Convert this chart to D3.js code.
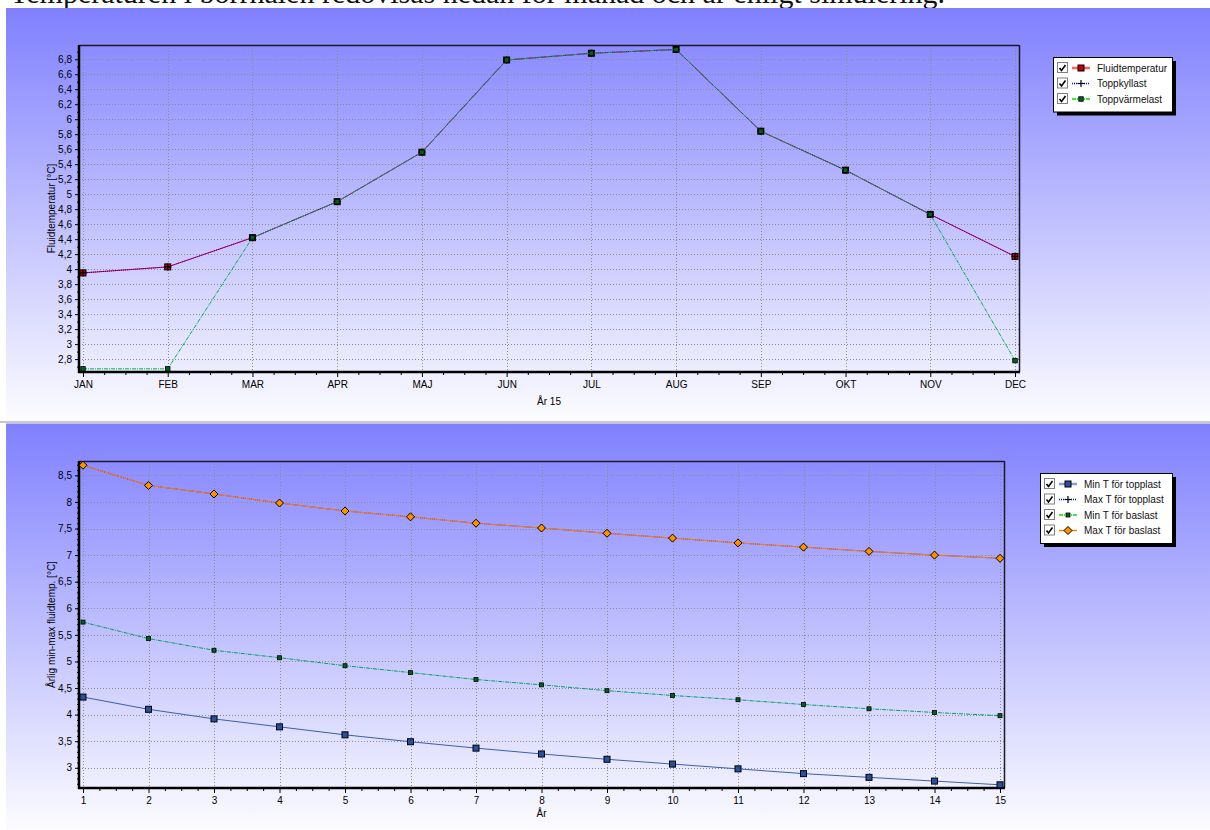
<!DOCTYPE html>
<html><head><meta charset="utf-8">
<script src="https://cdn.jsdelivr.net/npm/d3@7"></script>
<style>
body{margin:0;background:#fff}
svg{display:block}
text{font-family:"Liberation Sans",Arial,sans-serif;}
text.hdr{font-family:"Liberation Serif","DejaVu Serif",serif;}
</style>
</head><body><svg id="c" width="1210" height="830"></svg>
<script>
// ---------- data ----------
const months = ["JAN","FEB","MAR","APR","MAJ","JUN","JUL","AUG","SEP","OKT","NOV","DEC"];
const fluidTemp     = [3.95,4.03,4.42,4.90,5.56,6.79,6.88,6.93,5.84,5.32,4.73,4.17];
const toppKyllast   = [3.95,4.03,4.42,4.90,5.56,6.79,6.88,6.93,5.84,5.32,4.73,4.17];
const toppVarmelast = [2.67,2.67,4.42,4.90,5.56,6.79,6.88,6.93,5.84,5.32,4.73,2.78];
const topYTicks = [2.8,3,3.2,3.4,3.6,3.8,4,4.2,4.4,4.6,4.8,5,5.2,5.4,5.6,5.8,6,6.2,6.4,6.6,6.8];

const years = [1,2,3,4,5,6,7,8,9,10,11,12,13,14,15];
const minTopplast = [4.33,4.10,3.92,3.77,3.62,3.49,3.37,3.26,3.16,3.07,2.98,2.89,2.82,2.75,2.68];
const maxTopplast = [8.69,8.31,8.15,7.98,7.83,7.72,7.60,7.51,7.41,7.32,7.23,7.15,7.07,7.00,6.94];
const minBaslast  = [5.74,5.43,5.21,5.07,4.92,4.79,4.66,4.56,4.45,4.36,4.28,4.19,4.11,4.04,3.98];
const maxBaslast  = [8.69,8.31,8.15,7.98,7.83,7.72,7.60,7.51,7.41,7.32,7.23,7.15,7.07,7.00,6.94];
const bottomYTicks = [3,3.5,4,4.5,5,5.5,6,6.5,7,7.5,8,8.5];

const headerText = "Temperaturen i borrhålen redovisas nedan för månad och år enligt simulering.";

// ---------- helpers ----------
const svg = d3.select("#c");
const fmt = v => String(v).replace(".", ",");
const defs = svg.append("defs");
const grad = defs.append("linearGradient").attr("id","bg").attr("x1",0).attr("y1",0).attr("x2",0).attr("y2",1);
grad.append("stop").attr("offset","0%").attr("stop-color","#8080ff");
grad.append("stop").attr("offset","100%").attr("stop-color","#fcfcff");

// header (partly cut off at the top edge, as in the reference)
svg.append("text").attr("class","hdr").attr("x", 10).attr("y", 3)
  .attr("font-size", 30).attr("fill","#111").text(headerText);

function marker(g, type, x, y, style) {
  if (type === "square") {
    g.append("rect").attr("x", x - style.s/2).attr("y", y - style.s/2).attr("width", style.s).attr("height", style.s)
      .attr("fill", style.fill).attr("stroke", "#000").attr("stroke-width", 1);
  } else if (type === "diamond") {
    const r = style.s/2;
    g.append("path").attr("d", `M${x},${y-r}L${x+r},${y}L${x},${y+r}L${x-r},${y}Z`)
      .attr("fill", style.fill).attr("stroke", "#000").attr("stroke-width", 1);
  } else if (type === "plus") {
    g.append("path").attr("d", `M${x-3.5},${y}H${x+3.5}M${x},${y-3.5}V${y+3.5}`)
      .attr("stroke", "#000").attr("stroke-width", 1.2);
  } else if (type === "dot") {
    g.append("rect").attr("x", x - style.s/2).attr("y", y - style.s/2).attr("width", style.s).attr("height", style.s)
      .attr("fill", style.fill).attr("stroke", "#000").attr("stroke-width", 0.8);
  }
}

function chart(cfg) {
  const g = svg.append("g");
  g.append("rect").attr("x", cfg.panel[0]).attr("y", cfg.panel[1]).attr("width", cfg.panel[2]).attr("height", cfg.panel[3])
    .attr("fill", "url(#bg)");
  const {left, right, top, bottom} = cfg.plot;
  const x = d3.scaleLinear().domain(cfg.xDomain).range(cfg.xRange);
  const y = d3.scaleLinear().domain(cfg.yDomain).range([bottom, top]);

  // grid
  const grid = g.append("g").attr("stroke", "#8c8c8c").attr("stroke-width", 1).attr("stroke-dasharray", "1,2");
  cfg.yTicks.forEach(v => grid.append("line").attr("x1", left).attr("x2", right)
    .attr("y1", Math.round(y(v)) + 0.5).attr("y2", Math.round(y(v)) + 0.5));
  cfg.xValues.forEach(v => grid.append("line").attr("y1", top).attr("y2", bottom)
    .attr("x1", Math.round(x(v)) + 0.5).attr("x2", Math.round(x(v)) + 0.5));

  // axes
  const xAxis = d3.axisBottom(x).tickValues(cfg.xValues).tickSize(5).tickPadding(4)
    .tickFormat((d, i) => cfg.xLabels[i]);
  const xa = g.append("g").attr("transform", `translate(0,${bottom})`).call(xAxis);
  xa.select(".domain").remove();
  xa.selectAll("text").attr("font-size", 10).attr("fill", "#000");

  const xMinor = [];
  for (let i = 0; i < cfg.xValues.length - 1; i++) {
    const a = cfg.xValues[i], b = cfg.xValues[i+1];
    for (let k = 1; k < 4; k++) xMinor.push(a + (b - a) * k / 4);
  }
  const xm = g.append("g").attr("transform", `translate(0,${bottom})`)
    .call(d3.axisBottom(x).tickValues(xMinor).tickSize(3).tickFormat(""));
  xm.select(".domain").remove();

  const yAxis = d3.axisLeft(y).tickValues(cfg.yTicks).tickSize(4).tickPadding(3).tickFormat(fmt);
  const ya = g.append("g").attr("transform", `translate(${left},0)`).call(yAxis);
  ya.select(".domain").remove();
  ya.selectAll("text").attr("font-size", 10).attr("fill", "#000");
  const ym = g.append("g").attr("transform", `translate(${left},0)`)
    .call(d3.axisLeft(y).tickValues(cfg.yMinor).tickSize(2).tickFormat(""));
  ym.select(".domain").remove();

  // frame
  g.append("line").attr("x1", left).attr("x2", right).attr("y1", top + 0.5).attr("y2", top + 0.5).attr("stroke", "#1a1a2a").attr("stroke-width", 1.5);
  g.append("line").attr("x1", right + 0.5).attr("x2", right + 0.5).attr("y1", top).attr("y2", bottom).attr("stroke", "#1a1a2a").attr("stroke-width", 1.5);
  g.append("line").attr("x1", left).attr("x2", left).attr("y1", top).attr("y2", bottom + 1).attr("stroke", "#000").attr("stroke-width", 2.5);
  g.append("line").attr("x1", left - 1).attr("x2", right + 1).attr("y1", bottom).attr("y2", bottom).attr("stroke", "#000").attr("stroke-width", 2.5);

  // series
  cfg.series.forEach(s => {
    const line = d3.line().x((d, i) => x(cfg.xValues[i])).y(d => y(d));
    g.append("path").datum(s.values).attr("d", line).attr("fill", "none")
      .attr("stroke", s.color).attr("stroke-width", s.width || 1)
      .attr("stroke-dasharray", s.dash || null);
    const mg = g.append("g");
    s.values.forEach((v, i) => marker(mg, s.marker, x(cfg.xValues[i]), y(v), s.ms));
  });

  // axis titles
  g.append("text").attr("x", (left + right) / 2).attr("y", cfg.xTitleY).attr("text-anchor", "middle")
    .attr("font-size", 10).text(cfg.xTitle);
  g.append("text").attr("transform", `translate(${cfg.yTitleX},${(top + bottom) / 2}) rotate(-90)`)
    .attr("text-anchor", "middle").attr("font-size", 10).text(cfg.yTitle);

  // legend
  const L = cfg.legend;
  const lh = 15.5;
  const h = cfg.series.length * lh + 8;
  g.append("rect").attr("x", L.x + 4).attr("y", L.y + 4).attr("width", L.w).attr("height", h).attr("fill", "#000");
  g.append("rect").attr("x", L.x + 0.5).attr("y", L.y + 0.5).attr("width", L.w).attr("height", h)
    .attr("fill", "#fff").attr("stroke", "#000").attr("stroke-width", 1);
  cfg.series.forEach((s, i) => {
    const cy = L.y + 11 + i * lh;
    const cx = L.x + 4;
    g.append("rect").attr("x", cx + 0.5).attr("y", cy - 5.5).attr("width", 10).attr("height", 10)
      .attr("fill", "#fff").attr("stroke", "#808080");
    g.append("path").attr("d", `M${cx+2.5},${cy}L${cx+4.5},${cy+2.5}L${cx+8.5},${cy-3}`)
      .attr("fill", "none").attr("stroke", "#000").attr("stroke-width", 1.6);
    const lx0 = cx + 15, lx1 = cx + 33;
    g.append("line").attr("x1", lx0).attr("x2", lx1).attr("y1", cy).attr("y2", cy)
      .attr("stroke", s.legendColor || s.color).attr("stroke-width", s.legendWidth || 1.5).attr("stroke-dasharray", s.dash || null);
    marker(g, s.marker, (lx0 + lx1) / 2, cy, s.ms);
    g.append("text").attr("x", cx + 40).attr("y", cy + 3.5).attr("font-size", 10).attr("fill", "#111").text(s.name);
  });
}

// ---------- chart 1 ----------
chart({
  panel: [6, 8, 1204, 413],
  plot: {left: 79, right: 1019, top: 45, bottom: 372},
  xDomain: [0, 11], xRange: [83, 1015],
  xValues: d3.range(months.length), xLabels: months,
  yDomain: [2.628, 6.99],
  yTicks: topYTicks,
  yMinor: d3.range(27, 70, 2).map(v => v / 10),
  xTitle: "År 15", xTitleY: 405,
  yTitle: "Fluidtemperatur [°C]", yTitleX: 55,
  legend: {x: 1053, y: 57, w: 119},
  series: [
    {name: "Fluidtemperatur", values: fluidTemp, color: "#ff0000", legendColor: "#ff6060", legendWidth: 2.5,
      marker: "square", ms: {s: 6, fill: "#c00000"}},
    {name: "Toppkyllast", values: toppKyllast, color: "#0000ff", dash: "1,1", marker: "plus", ms: {}},
    {name: "Toppvärmelast", values: toppVarmelast, color: "#00b050", legendColor: "#00e000", dash: "4,1,1,1",
      marker: "dot", ms: {s: 4.5, fill: "#006020"}}
  ]
});

// separator
svg.append("rect").attr("x", 0).attr("y", 421).attr("width", 1210).attr("height", 2).attr("fill", "#c8c8c8");

// ---------- chart 2 ----------
chart({
  panel: [6, 423.5, 1204, 406.5],
  plot: {left: 79, right: 1004, top: 461, bottom: 788},
  xDomain: [1, 15], xRange: [83, 1000],
  xValues: years, xLabels: years.map(String),
  yDomain: [2.62, 8.77],
  yTicks: bottomYTicks,
  yMinor: d3.range(27, 88, 1).map(v => v / 10),
  xTitle: "År", xTitleY: 817,
  yTitle: "Årlig min-max fluidtemp. [°C]", yTitleX: 55,
  legend: {x: 1040, y: 473, w: 132},
  series: [
    {name: "Min T för topplast", values: minTopplast, color: "#3c5fa8", legendColor: "#8aa0d0", legendWidth: 2.5,
      marker: "square", ms: {s: 6, fill: "#2850a0"}},
    {name: "Max T för topplast", values: maxTopplast, color: "#0000ff", dash: "1,1", marker: "plus", ms: {}},
    {name: "Min T för baslast", values: minBaslast, color: "#00a060", legendColor: "#00e000", dash: "4,1,1,1",
      marker: "dot", ms: {s: 4, fill: "#006020"}},
    {name: "Max T för baslast", values: maxBaslast, color: "#ff8000", marker: "diamond", ms: {s: 8, fill: "#ff9000"}}
  ]
});
</script>
</body></html>
